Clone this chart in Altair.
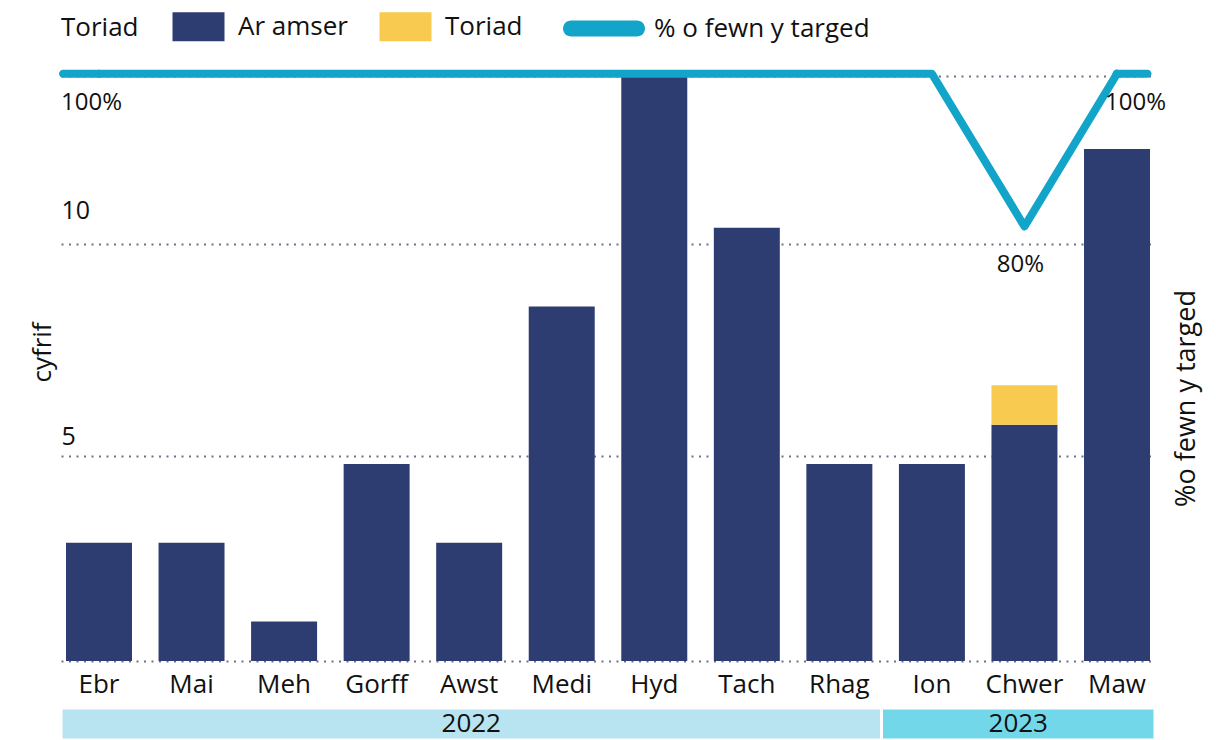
import altair as alt
import pandas as pd

# ---------------- data ----------------
months = ["Ebr", "Mai", "Meh", "Gorff", "Awst", "Medi", "Hyd", "Tach", "Rhag", "Ion", "Chwer", "Maw"]
on_time = [3, 3, 1, 5, 3, 9, 15, 11, 5, 5, 6, 13]
breach = [0, 0, 0, 0, 0, 0, 0, 0, 0, 0, 1, 0]
pct_within_target = [100, 100, 100, 100, 100, 100, 100, 100, 100, 100, 80, 100]

status_names = ["Ar amser", "Toriad"]
legend_title = "Toriad"
line_name = "% o fewn y targed"

years = ["2022", "2023"]
year_first_month = [0, 9]
year_month_count = [9, 3]

count_grid = [0, 5.21, 10.58, 14.85]
count_grid_labels = ["", "5", "10", ""]
y_title = "cyfrif"
y2_title = "%o fewn y targed"

# ---------------- styles ----------------
FONT = "Open Sans"
NAVY = "#2d3c71"
YELLOW = "#f8ca4f"
TEAL = "#12a4c9"
GRID = "#6e7186"
TEXT = "#111111"
YEAR_COLORS = ["#b8e3f0", "#72d8e9"]
W, H = 1094, 585

bar_rows = []
for m, a, b in zip(months, on_time, breach):
    bar_rows.append({"month": m, "status": status_names[0], "count": a, "stack_order": 0})
    bar_rows.append({"month": m, "status": status_names[1], "count": b, "stack_order": 1})
bar_df = pd.DataFrame(bar_rows)

line_df = pd.DataFrame({"month": months, "pct": pct_within_target, "series": [line_name] * len(months)})

strip_df = pd.DataFrame({
    "year": years,
    "start": year_first_month,
    "end": [s + c for s, c in zip(year_first_month, year_month_count)],
})

label_expr = " : ".join(
    f"datum.value == {v} ? '{t}'" for v, t in zip(count_grid, count_grid_labels)
) + " : ''"

# legend symbol shapes (wide rectangle and pill), unit height
rect_path = "M-1.793,-1L1.793,-1L1.793,1L-1.793,1Z"
pill_path = "M-4.125,-1L4.125,-1A1,1 0 0 1 4.125,1L-4.125,1A1,1 0 0 1 -4.125,-1Z"


def x_enc():
    return alt.X(
        "month:N", sort=months,
        scale=alt.Scale(paddingInner=0.287, paddingOuter=0.054),
        axis=alt.Axis(title=None, labelAngle=0, labelFontSize=26, labelColor=TEXT,
                      labelFont=FONT, labelPadding=10, ticks=False, domain=False, grid=False),
    )


def pct_enc():
    return alt.Y(
        "pct:Q",
        scale=alt.Scale(domain=[23.1, 99.7], nice=False, zero=False),
        axis=alt.Axis(orient="right", title=y2_title, labels=False, ticks=False, domain=False,
                      grid=False, titleAngle=270, titleX=31, titleY=322, titleFontSize=27,
                      titleFont=FONT, titleColor=TEXT, titleFontWeight="normal",
                      titleBaseline="middle", titleAlign="center"),
    )


bars = alt.Chart(bar_df).mark_bar(clip=True).encode(
    x=x_enc(),
    y=alt.Y(
        "count:Q", stack="zero",
        scale=alt.Scale(domain=[0, 14.85], nice=False),
        axis=alt.Axis(values=count_grid, title=y_title, grid=True, gridDash=[2, 5.5],
                      gridColor=GRID, gridWidth=2, ticks=False, domain=False,
                      labelAlign="left", labelPadding=0, labelExpr=label_expr,
                      labelOffset={"condition": {"test": "datum.value > 8", "value": -34}, "value": -19},
                      labelFontSize=25, labelFont=FONT, labelColor=TEXT, labelOverlap=False,
                      titleX=-19, titleY=276, titleAngle=270, titleFontSize=26, titleFont=FONT,
                      titleColor=TEXT, titleFontWeight="normal", titleBaseline="middle",
                      titleAlign="center"),
    ),
    color=alt.Color(
        "status:N",
        scale=alt.Scale(domain=status_names, range=[NAVY, YELLOW]),
        legend=alt.Legend(title=legend_title, orient="none", legendX=0, legendY=-63.7,
                          direction="horizontal", titleOrient="left", titleFontSize=26,
                          titleFont=FONT, titleColor=TEXT, titleFontWeight="normal",
                          titlePadding=45, titleAnchor="start", titleBaseline="line-top",
                          titleLineHeight=32,
                          labelFontSize=26, labelFont=FONT, labelColor=TEXT, labelOffset=25,
                          columnPadding=31, symbolType=rect_path, symbolSize=841,
                          symbolStrokeWidth=0, symbolOpacity=1, labelLimit=400),
    ),
    order=alt.Order("stack_order:Q", sort="ascending"),
)

line = alt.Chart(line_df).mark_line(strokeWidth=8, strokeCap="round", strokeJoin="round").encode(
    x=x_enc(),
    y=pct_enc(),
    stroke=alt.Stroke(
        "series:N",
        scale=alt.Scale(domain=[line_name], range=[TEAL]),
        legend=alt.Legend(title=None, orient="none", legendX=530, legendY=-60.5,
                          labelFontSize=26, labelFont=FONT, labelColor=TEXT, labelOffset=37,
                          labelLimit=500, symbolType=pill_path, symbolSize=256,
                          symbolFillColor=TEAL, symbolStrokeColor=TEAL, symbolStrokeWidth=0,
                          symbolOpacity=1),
    ),
)

# the line runs on past the first and last band centres, out to the bar edges
end_first = alt.Chart(line_df).mark_tick(
    color=TEAL, thickness=8, size=44, xOffset=-18, cornerRadius=4, opacity=1
).encode(x=x_enc(), y=pct_enc()).transform_filter(alt.datum.month == months[0])
end_last = alt.Chart(line_df).mark_tick(
    color=TEAL, thickness=8, size=39, xOffset=15, cornerRadius=4, opacity=1
).encode(x=x_enc(), y=pct_enc()).transform_filter(alt.datum.month == months[-1])

low_month = months[pct_within_target.index(min(pct_within_target))]

base_txt = alt.Chart(line_df).transform_calculate(label="datum.pct + '%'")
txt_first = base_txt.mark_text(align="left", dx=-38, dy=29, fontSize=24, font=FONT, color=TEXT).encode(
    x=x_enc(), y=pct_enc(), text="label:N"
).transform_filter(alt.datum.month == months[0])
txt_low = base_txt.mark_text(align="center", dx=-4, dy=39, fontSize=24, font=FONT, color=TEXT).encode(
    x=x_enc(), y=pct_enc(), text="label:N"
).transform_filter(alt.datum.month == low_month)
txt_last = base_txt.mark_text(align="right", dx=49, dy=29, fontSize=24, font=FONT, color=TEXT).encode(
    x=x_enc(), y=pct_enc(), text="label:N"
).transform_filter(alt.datum.month == months[-1])

pct_layer = alt.layer(line, end_first, end_last, txt_first, txt_low, txt_last)

main = alt.layer(bars, pct_layer).resolve_scale(y="independent").properties(width=W, height=H)

strip_base = alt.Chart(strip_df).transform_calculate(mid="(datum.start + datum.end) / 2")
xs = alt.Scale(domain=[0, len(months)], nice=False, zero=False)
strip_rects = strip_base.mark_rect(stroke="white", strokeWidth=3).encode(
    x=alt.X("start:Q", scale=xs, axis=None),
    x2="end:Q",
    color=alt.Color("year:N", scale=alt.Scale(domain=years, range=YEAR_COLORS), legend=None),
)
strip_text = strip_base.mark_text(fontSize=26, font=FONT, color=TEXT).encode(
    x=alt.X("mid:Q", scale=xs, axis=None),
    text="year:N",
)
strip = alt.layer(strip_rects, strip_text).properties(width=W, height=32)

chart = alt.vconcat(main, strip, spacing=47, bounds="flush").resolve_scale(
    x="independent", y="independent", color="independent"
).properties(
    padding={"left": 21, "top": 4, "right": 5, "bottom": 0}
).configure(font=FONT).configure_view(stroke=None, strokeWidth=0)

chart.save("out.html", embed_options={"renderer": "svg", "actions": False})
